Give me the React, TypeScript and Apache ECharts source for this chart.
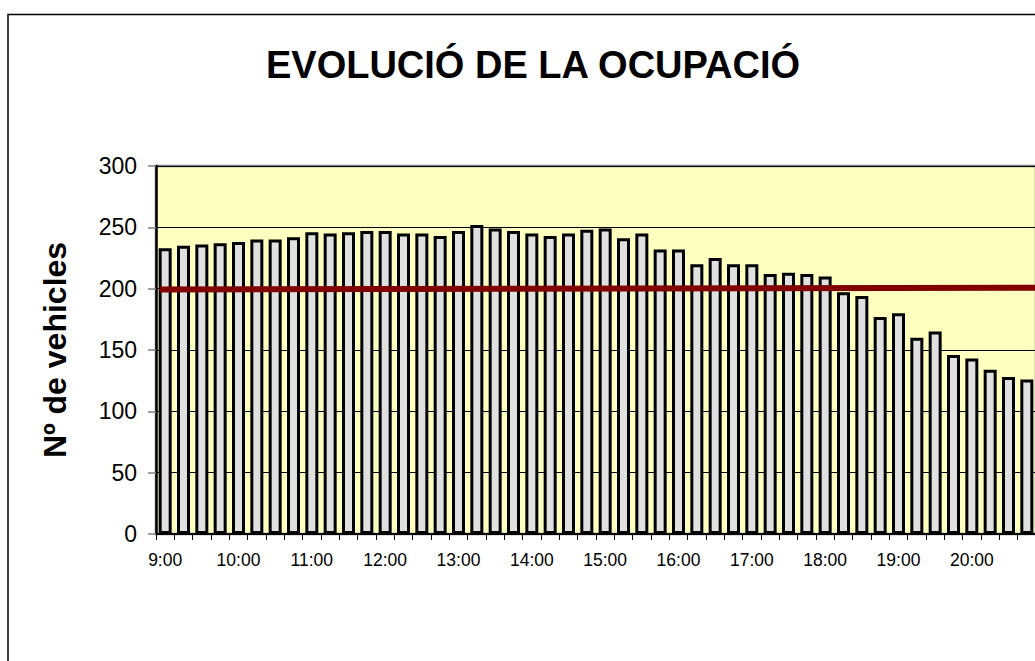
import React, { useEffect, useRef } from "react";
import * as echarts from "echarts";

const times: string[] = [
  "9:00", "9:15", "9:30", "9:45",
  "10:00", "10:15", "10:30", "10:45",
  "11:00", "11:15", "11:30", "11:45",
  "12:00", "12:15", "12:30", "12:45",
  "13:00", "13:15", "13:30", "13:45",
  "14:00", "14:15", "14:30", "14:45",
  "15:00", "15:15", "15:30", "15:45",
  "16:00", "16:15", "16:30", "16:45",
  "17:00", "17:15", "17:30", "17:45",
  "18:00", "18:15", "18:30", "18:45",
  "19:00", "19:15", "19:30", "19:45",
  "20:00", "20:15", "20:30", "20:45",
];

const vehicles: number[] = [
  233, 235, 236, 237, 238, 240, 240, 242,
  246, 245, 246, 247, 247, 245, 245, 243,
  247, 252, 249, 247, 245, 243, 245, 248,
  249, 241, 245, 232, 232, 220, 225, 220,
  220, 212, 213, 212, 210, 197, 194, 177,
  180, 160, 165, 146, 143, 134, 128, 126,
];

// reference (capacity) line: start and end points [position, value]
const referenceLine: [number, number][] = [
  [0.2, 199.3],
  [48, 200.8],
];

const yTicks = { min: 0, max: 300, interval: 50 };

const FONT = "'Liberation Sans', Arial, sans-serif";

export default function App() {
  const ref = useRef<HTMLDivElement>(null);

  useEffect(() => {
    if (!ref.current) return;
    const chart = echarts.init(ref.current, undefined, { renderer: "svg" });
    chart.setOption({
      animation: false,
      backgroundColor: "#ffffff",
      textStyle: { fontFamily: FONT },
      title: {
        text: "EVOLUCIÓ DE LA OCUPACIÓ",
        left: 528,
        textAlign: "center",
        top: 41,
        textStyle: {
          fontFamily: FONT,
          fontSize: 38,
          fontWeight: "bold",
          color: "#000000",
        },
      },
      graphic: [
        {
          type: "rect",
          shape: { x: 8, y: 14.5, width: 1200, height: 900 },
          style: { fill: "none", stroke: "#000000", lineWidth: 1.5 },
          z: -1,
          silent: true,
        },
      ],
      grid: {
        left: 156,
        top: 166,
        width: 880,
        height: 368,
        show: true,
        backgroundColor: "#FFFFC0",
        borderColor: "#808080",
        borderWidth: 2.5,
      },
      xAxis: [
        {
          type: "category",
          data: times,
          boundaryGap: true,
          axisLine: { show: true, lineStyle: { color: "#000000", width: 2 } },
          axisTick: {
            show: true,
            interval: 0,
            length: 6,
            lineStyle: { color: "#000000", width: 1 },
          },
          axisLabel: {
            interval: 3,
            fontSize: 17.5,
            color: "#000000",
            margin: 17,
            fontFamily: FONT,
          },
          splitLine: { show: false },
        },
        {
          type: "value",
          min: 0,
          max: 48,
          show: false,
        },
      ],
      yAxis: {
        type: "value",
        min: yTicks.min,
        max: yTicks.max,
        interval: yTicks.interval,
        name: "Nº de vehicles",
        nameLocation: "middle",
        nameRotate: 90,
        nameGap: 85,
        nameTextStyle: {
          fontFamily: FONT,
          fontSize: 32,
          fontWeight: "bold",
          color: "#000000",
        },
        axisLine: { show: true, lineStyle: { color: "#000000", width: 2.5 } },
        axisTick: {
          show: true,
          length: 8,
          lineStyle: { color: "#808080", width: 1.5 },
        },
        axisLabel: {
          fontSize: 23,
          color: "#000000",
          margin: 19,
          fontFamily: FONT,
        },
        splitLine: { show: true, lineStyle: { color: "#000000", width: 1 } },
      },
      series: [
        {
          type: "bar",
          data: vehicles,
          barWidth: 13,
          itemStyle: {
            color: "#E0E0E0",
            borderColor: "#000000",
            borderWidth: 3,
          },
          z: 2,
        },
        {
          type: "line",
          xAxisIndex: 1,
          data: referenceLine,
          symbol: "none",
          lineStyle: { color: "#800000", width: 6 },
          z: 3,
        },
      ],
    });
    return () => chart.dispose();
  }, []);

  return (
    <div
      style={{
        position: "fixed",
        left: 0,
        top: 0,
        width: 1035,
        height: 661,
        overflow: "hidden",
        background: "#ffffff",
      }}
    >
      <div ref={ref} style={{ width: 1100, height: 720 }} />
    </div>
  );
}
